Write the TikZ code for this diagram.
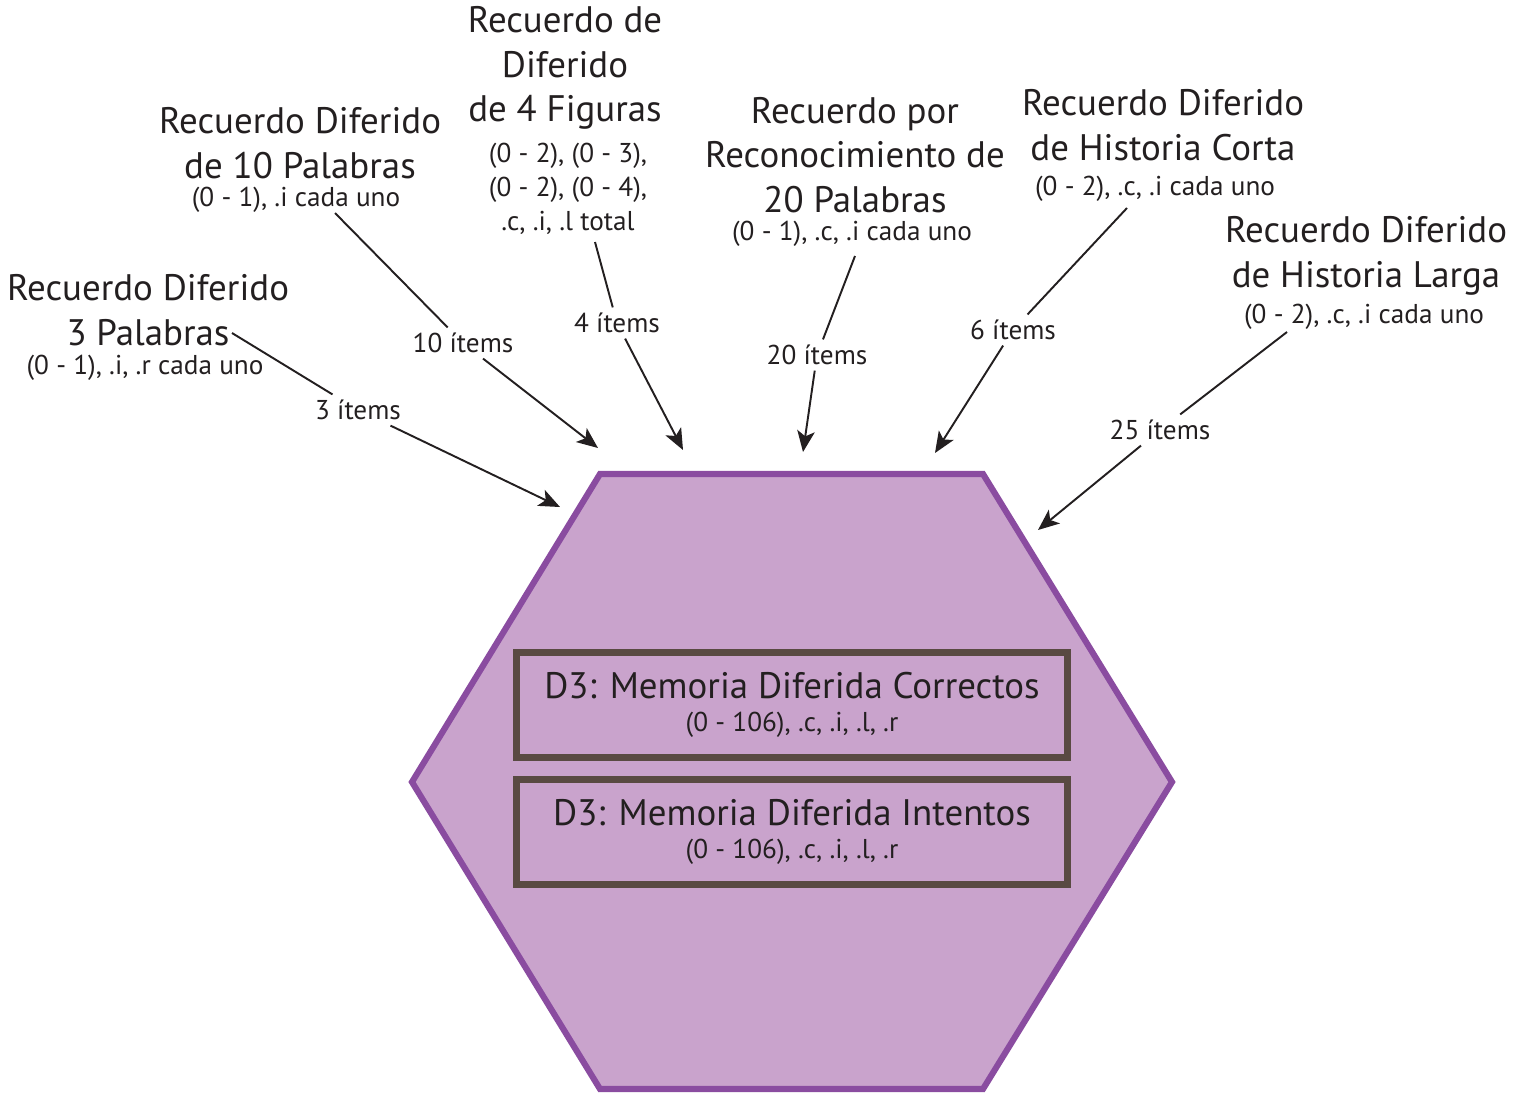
\documentclass[tikz,border=0pt]{standalone}
\usepackage{fontspec}
\setmainfont{PT Sans}
\usepackage{tikz}
\usetikzlibrary{arrows.meta, positioning}
\definecolor{hexfill}{HTML}{C9A3CC}
\definecolor{hexline}{HTML}{8A4CA0}
\definecolor{boxline}{HTML}{594A42}
\definecolor{ink}{HTML}{231F20}
\begin{document}
\begin{tikzpicture}[x=0.02cm, y=-0.02cm,
		title/.style={
			align=center,
			text=ink,
			inner sep=0pt,
			font=\fontsize{21}{25.5}\selectfont,
		}, sub/.style={
			align=center,
			text=ink,
			inner sep=0pt,
			font=\fontsize{15.5}{19.3}\selectfont,
		}, items/.style={
			text=ink,
			inner sep=3pt,
			font=\fontsize{15.5}{19}\selectfont,
		}, feed/.style={
			draw=ink,
			line width=1.1pt,
			-{Stealth[length=12pt, width=10pt, inset=3pt]},
		}, box/.style={
			draw=boxline,
			line width=4pt,
			minimum width=11.02cm,
			minimum height=2.1cm,
			align=center,
			text=ink,
		}, ]

\useasboundingbox (0,0) rectangle (1526,1093);

% ------ Hexagon ------- %
\filldraw[fill=hexfill, draw=hexline, line width=3.5pt, line join=miter] (600,474) -- (983,474) -- (1172,782) -- (983,1089) -- (600,1089) -- (412,782) -- cycle;

\node[box](correct_box) at (792,705) {{\fontsize{21}{25.5}\selectfont D3: Memoria Diferida Correctos} \\[7pt] {\fontsize{15.5}{19}\selectfont (0 - 106), .c, .i, .l, .r}};
\node[box](attempt_box) at (792,832) {{\fontsize{21}{25.5}\selectfont D3: Memoria Diferida Intentos} \\[7pt] {\fontsize{15.5}{19}\selectfont (0 - 106), .c, .i, .l, .r}};

% ------ Tasks ------- %
\draw
(148,310) node[title](words3){Recuerdo Diferido \\ 3 Palabras}
(145,368) node[sub](words3_sub){(0 - 1), .i, .r cada uno}
(300,143) node[title](words10){Recuerdo Diferido \\ de 10 Palabras}
(296,200) node[sub](words10_sub){(0 - 1), .i cada uno}
(565,68) node[title](figures){Recuerdo de \\ Diferido \\ de 4 Figuras}
(568,189) node[sub](figures_sub){(0 - 2), (0 - 3), \\ (0 - 2), (0 - 4), \\ .c, .i, .l total}
(855,155) node[title](recog){Recuerdo por \\ Reconocimiento de \\ 20 Palabras}
(852,234) node[sub](recog_sub){(0 - 1), .c, .i cada uno}
(1163,125) node[title](short_story){Recuerdo Diferido \\ de Historia Corta}
(1155,189) node[sub](short_story_sub){(0 - 2), .c, .i cada uno}
(1366,256) node[title](long_story){Recuerdo Diferido \\ de Historia Larga}
(1364,317) node[sub](long_story_sub){(0 - 2), .c, .i cada uno}
;

% ------ Item counts ------- %
\draw
(358,410) node[items](words3_n){3 ítems}
(463,343) node[items](words10_n){10 ítems}
(617,323) node[items](figures_n){4 ítems}
(817,355) node[items](recog_n){20 ítems}
(1013,330) node[items](short_story_n){6 ítems}
(1160,430) node[items](long_story_n){25 ítems}
;

\coordinate (words3_s) at (232,333);
\coordinate (words10_s) at (335,213);
\coordinate (figures_s) at (595,242);
\coordinate (recog_s) at (855,256);
\coordinate (short_story_s) at (1127,208);
\coordinate (long_story_s) at (1287,332);

\coordinate (words3_e) at (560,507);
\coordinate (words10_e) at (598,448);
\coordinate (figures_e) at (683,450);
\coordinate (recog_e) at (803,452);
\coordinate (short_story_e) at (935,453);
\coordinate (long_story_e) at (1038,530);

\draw [ink, line width=1.1pt] (words3_s) -- (words3_n);
\draw [feed] (words3_n) -- (words3_e);
\draw [ink, line width=1.1pt] (words10_s) -- (words10_n);
\draw [feed] (words10_n) -- (words10_e);
\draw [ink, line width=1.1pt] (figures_s) -- (figures_n);
\draw [feed] (figures_n) -- (figures_e);
\draw [ink, line width=1.1pt] (recog_s) -- (recog_n);
\draw [feed] (recog_n) -- (recog_e);
\draw [ink, line width=1.1pt] (short_story_s) -- (short_story_n);
\draw [feed] (short_story_n) -- (short_story_e);
\draw [ink, line width=1.1pt] (long_story_s) -- (long_story_n);
\draw [feed] (long_story_n) -- (long_story_e);

\end{tikzpicture}
\end{document}
